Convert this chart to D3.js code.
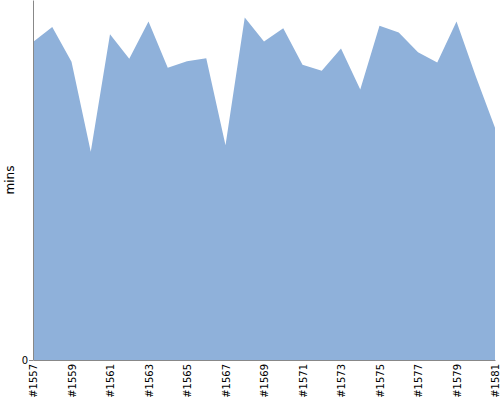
<!DOCTYPE html>
<html>
<head>
<meta charset="utf-8">
<script src="https://cdn.jsdelivr.net/npm/d3@7"></script>
<style>
  html, body { margin: 0; padding: 0; background: #fff; }
  svg { display: block; font-family: "DejaVu Sans", sans-serif; }
</style>
</head>
<body>
<svg id="chart" width="500" height="400"></svg>
<script>
const categories = ["#1557","#1558","#1559","#1560","#1561","#1562","#1563","#1564","#1565","#1566","#1567","#1568","#1569","#1570","#1571","#1572","#1573","#1574","#1575","#1576","#1577","#1578","#1579","#1580","#1581"];
const values = [53.0,55.5,49.7,34.7,54.3,50.2,56.4,48.7,49.8,50.3,35.8,57.1,53.1,55.3,49.2,48.2,51.9,45.1,55.7,54.6,51.3,49.6,56.4,47.3,38.7];
const yTicks = [0];
const yLabel = "mins";

const margin = {top: 0, right: 5, bottom: 40, left: 33};
const W = 500, H = 400;
const iw = W - margin.left - margin.right, ih = H - margin.top - margin.bottom;

const svg = d3.select("#chart");
const g = svg.append("g").attr("transform", `translate(${margin.left},${margin.top})`);

const x = d3.scalePoint().domain(categories).range([0, iw]);
const y = d3.scaleLinear().domain([0, 60]).range([ih, 0]);

const data = categories.map((c, i) => ({c, v: values[i]}));

g.append("path")
  .datum(data)
  .attr("fill", "#8fb1da")
  .attr("d", d3.area().x(d => x(d.c)).y0(y(0)).y1(d => y(d.v)));

// y axis
const ya = g.append("g").call(d3.axisLeft(y).tickValues(yTicks).tickSize(4).tickSizeOuter(0));
ya.select(".domain").attr("stroke", "#888");
ya.selectAll(".tick line").attr("stroke", "#888");
ya.selectAll(".tick text").attr("font-size", 10).attr("font-family", "DejaVu Sans").attr("fill", "#000").attr("x", -5);

// x axis
const xa = g.append("g").attr("transform", `translate(0,${ih})`)
  .call(d3.axisBottom(x).tickValues(categories.filter((c, i) => i % 2 === 0)).tickSize(0).tickSizeOuter(0));
xa.select(".domain").attr("stroke", "#888");
xa.selectAll(".tick text")
  .attr("font-size", 10).attr("font-family", "DejaVu Sans").attr("fill", "#000")
  .attr("transform", "rotate(-90)")
  .attr("text-anchor", "end")
  .attr("x", -4).attr("y", 0).attr("dy", "0.35em");

svg.append("text")
  .attr("transform", `translate(14,${margin.top + ih / 2}) rotate(-90)`)
  .attr("text-anchor", "middle")
  .attr("font-size", 12)
  .attr("fill", "#000")
  .text(yLabel);
</script>
</body>
</html>
